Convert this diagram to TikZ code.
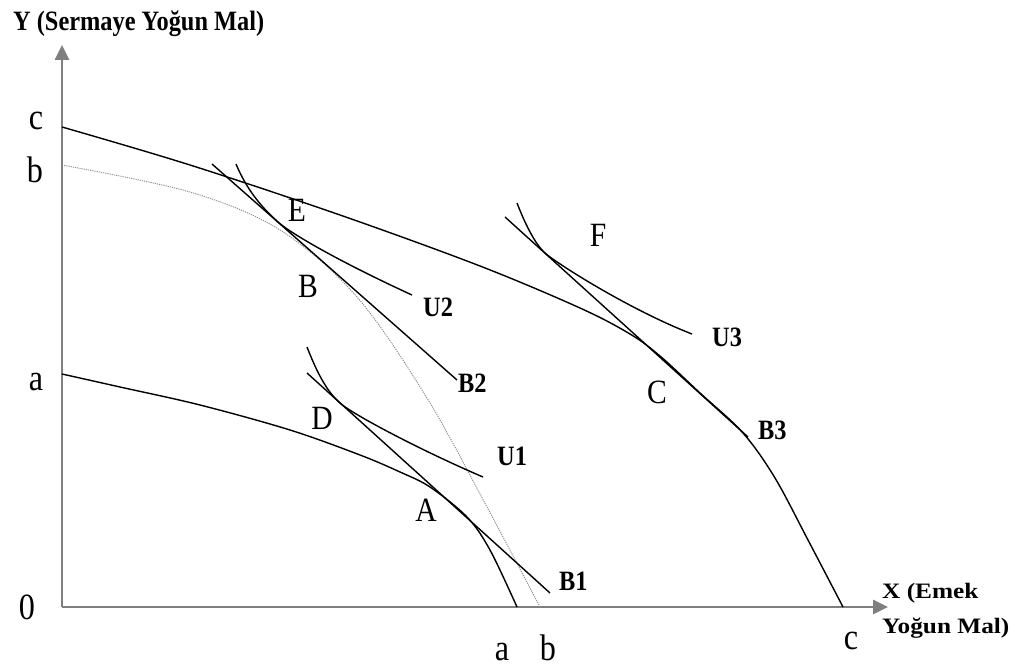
\documentclass[tikz,border=0pt]{standalone}
\usepackage{fontspec}
\setmainfont{Liberation Serif}[FakeStretch=0.87]
\newfontfamily\widefont{Liberation Serif}[FakeStretch=1.15]
\usetikzlibrary{arrows.meta}
\definecolor{axisgray}{HTML}{7F7F7F}
\definecolor{oldppf}{HTML}{8C8C8C}
\tikzset{
  axisline/.style = {draw=axisgray, line width=2.6pt, -{Triangle[length=15pt,width=14pt]}},
  ppf/.style      = {line width=1.4pt, line join=round},
  ppfold/.style   = {draw=oldppf, line width=0.9pt, dash pattern=on 1.2pt off 1pt},
  util/.style     = {line width=1.4pt},
  budget/.style   = {line width=1.4pt},
  ticklbl/.style  = {font=\fontsize{37}{37}\selectfont, anchor=base, inner sep=0pt},
  ptlbl/.style    = {font=\fontsize{34}{34}\selectfont, anchor=base, inner sep=0pt},
  crvlbl/.style   = {font=\bfseries\fontsize{28}{28}\selectfont, anchor=base west, inner sep=0pt},
  ttl/.style      = {font=\bfseries\fontsize{28}{28}\selectfont, anchor=base west, inner sep=0pt},
  xttl/.style     = {font=\widefont\bfseries\fontsize{22}{22}\selectfont, anchor=base west, inner sep=0pt},
}
\begin{document}
\begin{tikzpicture}[x=1pt, y=-1pt]
    \useasboundingbox (0,0) rectangle (1015,668);
    % axes
    \coordinate (O)    at (62,607);
    \coordinate (ytip) at (62,45);
    \coordinate (xtip) at (888,607);
    \draw[axisline] (O) -- (ytip);
    \draw[axisline] (O) -- (xtip);
    \node[ttl]  (yttl)  at (13,31)  {Y (Sermaye Yoğun Mal)};
    \node[xttl] (xttl)  at (882,598) {X (Emek};
    \node[xttl] (xttl2) at (882,633) {Yoğun Mal)};

    % production possibility frontiers
    \draw[ppf] plot[smooth, tension=0.55] coordinates {(62,374) (120,387) (200,405) (290,430)
        (360,455) (400,472) (430,487) (467,517) (490,550) (517,607)};
    \draw[ppfold] plot[smooth, tension=0.55] coordinates {(62,165) (190,192) (280,230) (357,297)
        (427,398) (487,507) (540,607)};
    \draw[ppf] plot[smooth, tension=0.55] coordinates {(62,127) (190,165) (340,215) (480,266)
        (580,308) (630,334) (660,356) (700,393) (743,433) (775,478) (808,540) (843,607)};

    % price lines
    \draw[budget] (307,373) -- (550,593);
    \draw[budget] (212,164) -- (457,380);
    \draw[budget] (505,217) -- (748,437);

    % indifference curves
    \draw[util] (307,347) .. controls (316,370) and (326,391) .. (340,403)
                .. controls (352,414) and (420,450) .. (483,477);
    \draw[util] (236,164) .. controls (246,188) and (260,206) .. (278,222)
                .. controls (290,233) and (340,262) .. (412,295);
    \draw[util] (517,203) .. controls (524,221) and (534,243) .. (545,253)
                .. controls (556,263) and (630,310) .. (692,334);

    % axis letters
    \node[ticklbl] (yc) at (36,130) {c};
    \node[ticklbl] (yb) at (35,183) {b};
    \node[ticklbl] (ya) at (36,390) {a};
    \node[ticklbl] (o)  at (27,619) {0};
    \node[ticklbl] (xa) at (502,660) {a};
    \node[ticklbl] (xb) at (548,660) {b};
    \node[ticklbl] (xc) at (851,649) {c};

    % points
    \node[ptlbl] (E) at (297,222) {E};
    \node[ptlbl] (B) at (308,298) {B};
    \node[ptlbl] (D) at (322,429) {D};
    \node[ptlbl] (A) at (426,521) {A};
    \node[ptlbl] (F) at (598,247) {F};
    \node[ptlbl] (C) at (657,403) {C};

    % curve names
    \node[crvlbl] (U1) at (497,465) {U1};
    \node[crvlbl] (B1) at (559,590) {B1};
    \node[crvlbl] (U2) at (423,317) {U2};
    \node[crvlbl] (B2) at (458,392) {B2};
    \node[crvlbl] (U3) at (712,347) {U3};
    \node[crvlbl] (B3) at (758,439) {B3};
\end{tikzpicture}
\end{document}
